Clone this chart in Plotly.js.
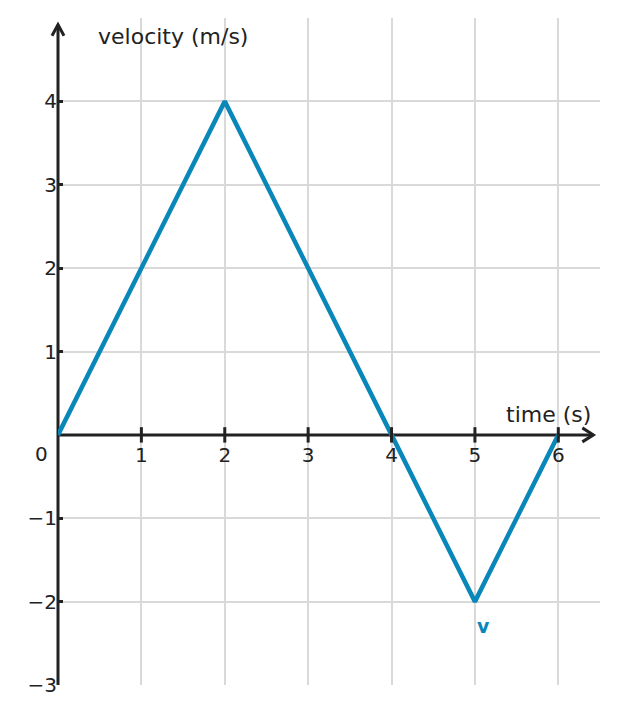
<!DOCTYPE html>
<html>
<head>
<meta charset="utf-8">
<script src="https://cdn.plot.ly/plotly-3.0.1.min.js"></script>
<style>
  html, body { margin: 0; padding: 0; background: #fff; }
  #chart { width: 618px; height: 714px; }
</style>
</head>
<body>
<div id="chart"></div>
<script>
// values
var time = [0, 2, 4, 5, 6];
var velocity = [0, 4, 0, -2, 0];
var xTicks = [1, 2, 3, 4, 5, 6];
var yTicks = [-3, -2, -1, 1, 2, 3, 4];

var xMax = 6.5, yMin = -3, yMax = 5;

var blue = '#0a87b9';
var ink = '#222222';
var grid = '#d9d9d9';

var trace_v = {
    x: time,
    y: velocity,
    mode: 'lines',
    line: { color: blue, width: 4.5 },
    cliponaxis: false,
    hoverinfo: 'skip'
};

// little crossing ticks on the time axis
var trace_ticks = {
    x: xTicks,
    y: xTicks.map(function() { return 0; }),
    mode: 'markers',
    marker: { symbol: 'line-ns', size: 11, line: { color: ink, width: 3 } },
    cliponaxis: false,
    hoverinfo: 'skip'
};

// paper fractions for the hand drawn axes (paper shapes are not clipped)
function px(v) { return v / xMax; }
function py(v) { return (v - yMin) / (yMax - yMin); }

var layout = {
    width: 618,
    height: 714,
    margin: { l: 58, r: 18, t: 18, b: 29 },
    paper_bgcolor: '#fff',
    plot_bgcolor: '#fff',
    showlegend: false,
    font: { family: 'DejaVu Sans', size: 20, color: ink },
    xaxis: {
        range: [0, xMax],
        tickvals: xTicks,
        anchor: 'free',
        position: py(0),
        showgrid: true,
        gridcolor: grid,
        gridwidth: 2,
        zeroline: false,
        showline: false,
        ticks: 'outside',
        ticklen: 2,
        tickcolor: 'rgba(0,0,0,0)',
        tickfont: { size: 20, color: ink },
        fixedrange: true
    },
    yaxis: {
        range: [yMin, yMax],
        tickvals: yTicks,
        showgrid: true,
        gridcolor: grid,
        gridwidth: 2,
        zeroline: false,
        showline: false,
        ticks: 'inside',
        ticklen: 5,
        tickwidth: 3,
        tickcolor: ink,
        tickfont: { size: 20, color: ink },
        fixedrange: true
    },
    shapes: [
        // axis lines, under the velocity line
        { type: 'line', xref: 'paper', yref: 'paper', x0: 0, x1: 0, y0: 0, y1: py(4.92),
          line: { color: ink, width: 3 }, layer: 'between' },
        { type: 'line', xref: 'paper', yref: 'paper', x0: 0, x1: px(6.42), y0: py(0), y1: py(0),
          line: { color: ink, width: 3 }, layer: 'between' },
        // arrow heads
        { type: 'path', xref: 'paper', yref: 'paper', xsizemode: 'pixel', ysizemode: 'pixel',
          xanchor: 0, yanchor: py(4.92), path: 'M-6,-11 L0,0 L6,-11',
          line: { color: ink, width: 3 } },
        { type: 'path', xref: 'paper', yref: 'paper', xsizemode: 'pixel', ysizemode: 'pixel',
          xanchor: px(6.42), yanchor: py(0), path: 'M-11,7 L0,0 L-11,-7',
          line: { color: ink, width: 3 } }
    ],
    annotations: [
        { text: 'velocity (m/s)', xref: 'x', yref: 'y', x: 0.46, y: 4.78,
          xanchor: 'left', yanchor: 'middle', showarrow: false,
          font: { size: 22, color: ink } },
        { text: 'time (s)', xref: 'x', yref: 'y', x: 6.42, y: 0.25,
          xanchor: 'right', yanchor: 'middle', showarrow: false,
          font: { size: 22, color: ink } },
        { text: '0', xref: 'x', yref: 'y', x: 0, y: 0, xshift: -17, yshift: -19,
          xanchor: 'center', yanchor: 'middle', showarrow: false,
          font: { size: 20, color: ink } },
        { text: '<b>v</b>', xref: 'x', yref: 'y', x: 5.1, y: -2.29,
          xanchor: 'center', yanchor: 'middle', showarrow: false,
          font: { size: 19, color: blue } }
    ]
};

Plotly.newPlot('chart', [trace_v, trace_ticks], layout, { displayModeBar: false, staticPlot: true });
</script>
</body>
</html>
